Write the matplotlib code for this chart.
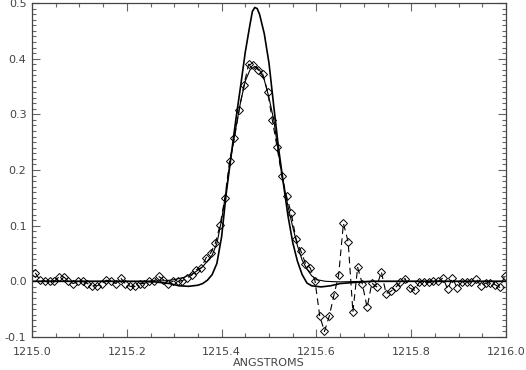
import matplotlib
matplotlib.use('Agg')
import matplotlib.pyplot as plt
from matplotlib.ticker import MultipleLocator

# observed profile (diamonds), wavelength grid in Angstroms
wave = [1215.007, 1215.017, 1215.027, 1215.037, 1215.047, 1215.057, 1215.067, 1215.077, 1215.087, 1215.097,
        1215.107, 1215.117, 1215.127, 1215.137, 1215.147, 1215.157, 1215.167, 1215.177, 1215.187, 1215.197,
        1215.207, 1215.217, 1215.227, 1215.237, 1215.247, 1215.257, 1215.267, 1215.277, 1215.287, 1215.297,
        1215.307, 1215.317, 1215.327, 1215.337, 1215.347, 1215.357, 1215.367, 1215.377, 1215.387, 1215.397,
        1215.407, 1215.417, 1215.427, 1215.437, 1215.447, 1215.457, 1215.467, 1215.477, 1215.487, 1215.497,
        1215.507, 1215.517, 1215.527, 1215.537, 1215.547, 1215.557, 1215.567, 1215.577, 1215.587, 1215.597,
        1215.607, 1215.617, 1215.627, 1215.637, 1215.647, 1215.657, 1215.667, 1215.677, 1215.687, 1215.697,
        1215.707, 1215.717, 1215.727, 1215.737, 1215.747, 1215.757, 1215.767, 1215.777, 1215.787, 1215.797,
        1215.807, 1215.817, 1215.827, 1215.837, 1215.847, 1215.857, 1215.867, 1215.877, 1215.887, 1215.897,
        1215.907, 1215.917, 1215.927, 1215.937, 1215.947, 1215.957, 1215.967, 1215.977, 1215.987, 1215.997]
flux = [0.015, 0.002, 0.000, 0.000, 0.000, 0.008, 0.008, 0.000, -0.004, 0.000,
        0.000, -0.004, -0.008, -0.008, -0.004, 0.002, 0.000, -0.004, 0.006, -0.004,
        -0.009, -0.009, -0.004, -0.004, 0.000, 0.000, 0.009, 0.003, -0.004, 0.000,
        0.000, 0.001, 0.006, 0.011, 0.021, 0.024, 0.042, 0.051, 0.069, 0.102,
        0.150, 0.217, 0.257, 0.308, 0.352, 0.390, 0.388, 0.380, 0.372, 0.341,
        0.290, 0.241, 0.190, 0.153, 0.122, 0.076, 0.055, 0.032, 0.024, 0.001,
        -0.062, -0.090, -0.063, -0.025, 0.012, 0.104, 0.071, -0.055, 0.025, -0.005,
        -0.047, -0.003, -0.010, 0.017, -0.022, -0.018, -0.011, -0.002, 0.005, -0.012,
        -0.016, -0.002, -0.002, -0.002, 0.000, 0.000, 0.006, -0.014, 0.006, -0.012,
        -0.001, -0.001, -0.001, 0.005, -0.009, -0.003, -0.003, -0.006, -0.011, 0.009]

# thin solid fit through the data
fit_wave = [1215.00, 1215.10, 1215.20, 1215.28, 1215.30, 1215.32, 1215.34, 1215.36, 1215.38, 1215.39,
            1215.40, 1215.41, 1215.42, 1215.43, 1215.44, 1215.45, 1215.46, 1215.47, 1215.48, 1215.49,
            1215.50, 1215.51, 1215.52, 1215.53, 1215.54, 1215.55, 1215.56, 1215.57, 1215.58, 1215.59,
            1215.60, 1215.62, 1215.65, 1215.70, 1215.80, 1215.90, 1216.00]
fit_flux = [0.000, 0.000, 0.000, 0.001, 0.003, 0.007, 0.014, 0.026, 0.047, 0.068,
            0.110, 0.165, 0.225, 0.275, 0.322, 0.360, 0.380, 0.386, 0.380, 0.362,
            0.330, 0.290, 0.230, 0.178, 0.135, 0.098, 0.064, 0.038, 0.022, 0.010,
            0.003, 0.000, -0.001, 0.000, 0.000, 0.000, 0.000]

# thick solid model profile
model_wave = [1215.00, 1215.10, 1215.20, 1215.26, 1215.29, 1215.31, 1215.33, 1215.35, 1215.36, 1215.37,
              1215.38, 1215.39, 1215.40, 1215.41, 1215.42, 1215.43, 1215.44, 1215.45, 1215.46, 1215.465,
              1215.47, 1215.475, 1215.48, 1215.49, 1215.50, 1215.51, 1215.52, 1215.53, 1215.54, 1215.55,
              1215.56, 1215.57, 1215.58, 1215.59, 1215.61, 1215.63, 1215.65, 1215.68, 1215.72, 1215.80,
              1215.90, 1216.00]
model_flux = [0.000, 0.000, 0.000, -0.001, -0.004, -0.008, -0.009, -0.007, -0.004, 0.002,
              0.012, 0.032, 0.080, 0.160, 0.225, 0.290, 0.350, 0.412, 0.462, 0.485,
              0.492, 0.490, 0.480, 0.445, 0.392, 0.315, 0.240, 0.178, 0.118, 0.070,
              0.036, 0.012, -0.003, -0.008, -0.010, -0.008, -0.004, -0.002, 0.000, 0.000,
              0.000, 0.000]

fig = plt.figure(figsize=(5.26, 3.70), dpi=100)
ax = fig.add_axes([32 / 526, 1 - 337 / 370, 474 / 526, 334 / 370])

ax.plot(wave, flux, color='black', lw=0.8, ls=(0, (6, 4)),
        marker='D', ms=4.2, mfc='none', mec='black', mew=0.7)
ax.plot(fit_wave, fit_flux, color='black', lw=0.8)
ax.plot(model_wave, model_flux, color='black', lw=1.2)

ax.set_xlim(1215.0, 1216.0)
ax.set_ylim(-0.1, 0.5)
ax.xaxis.set_major_locator(MultipleLocator(0.2))
ax.xaxis.set_minor_locator(MultipleLocator(0.05))
ax.yaxis.set_major_locator(MultipleLocator(0.1))
ax.yaxis.set_minor_locator(MultipleLocator(0.01))
ax.xaxis.set_major_formatter(plt.FuncFormatter(lambda v, p: '%.1f' % v))
ax.yaxis.set_major_formatter(plt.FuncFormatter(lambda v, p: '%.1f' % v))

ax.tick_params(which='both', direction='in', top=True, right=True, color='#666666',
               labelsize=8, labelcolor='#444444', pad=4)
ax.tick_params(axis='x', pad=7)
ax.tick_params(which='major', length=6, width=0.8)
ax.tick_params(which='minor', length=3, width=0.8)
for s in ax.spines.values():
    s.set_color('#444444')
    s.set_linewidth(0.9)

ax.set_xlabel('ANGSTROMS', fontsize=8, color='#444444', labelpad=1)

fig.savefig('out.png', dpi=100)
